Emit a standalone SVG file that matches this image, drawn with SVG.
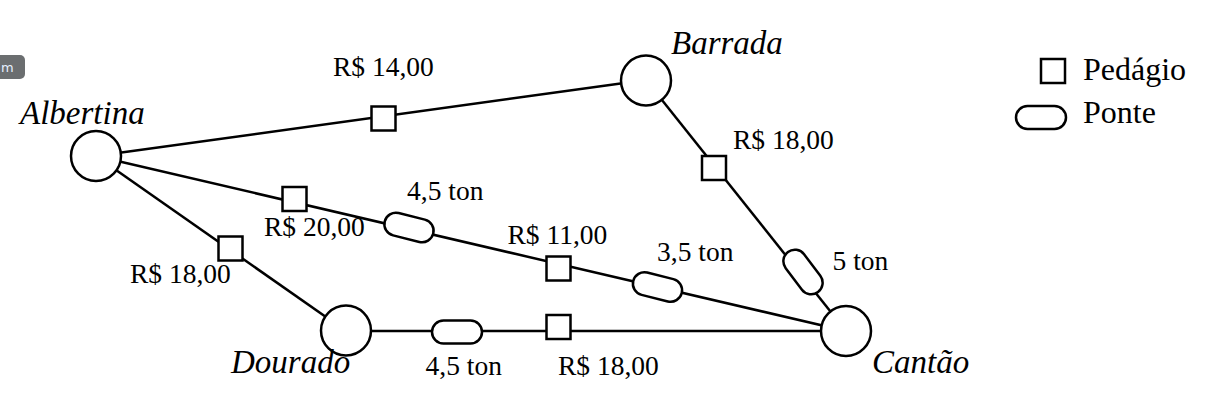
<svg xmlns="http://www.w3.org/2000/svg" width="1217" height="407" viewBox="0 0 1217 407">
<style>
.edge{stroke:#000;stroke-width:2.5;fill:none}
.city{fill:#fff;stroke:#000;stroke-width:2.5}
.toll{fill:#fff;stroke:#000;stroke-width:2.5}
.bridge{fill:#fff;stroke:#000;stroke-width:2.5}
.lbl{font-family:"Liberation Serif","Times New Roman",serif;font-size:27.5px;fill:#000}
.name{font-family:"Liberation Serif","Times New Roman",serif;font-size:33px;font-style:italic;fill:#000}
.leg{font-family:"Liberation Serif","Times New Roman",serif;font-size:32px;fill:#000}
</style>
<defs>
<rect id="sq" x="-12" y="-12" width="24" height="24" class="toll"/>
<rect id="br" x="-25" y="-11.5" width="50" height="23" rx="11.5" class="bridge"/>
</defs>
<rect x="-6" y="55" width="31" height="24" rx="5" fill="#6b6e70"/>
<text x="1" y="72" font-family="'DejaVu Sans',sans-serif" font-size="13" fill="#e6f0ff">m</text>
<g id="connectors">
<line class="edge" x1="96" y1="156" x2="646" y2="80"/>
<line class="edge" x1="96" y1="156" x2="846" y2="331"/>
<line class="edge" x1="96" y1="156" x2="346" y2="331"/>
<line class="edge" x1="646" y1="80" x2="846" y2="331"/>
<line class="edge" x1="346" y1="331" x2="846" y2="331"/>
</g>
<g id="tolls">
<use href="#sq" x="383.5" y="118.5"/>
<use href="#sq" x="294.5" y="199"/>
<use href="#sq" x="558.5" y="268.5"/>
<use href="#sq" x="230.5" y="248.5"/>
<use href="#sq" x="714" y="168"/>
<use href="#sq" x="558.5" y="327"/>
</g>
<g id="bridges">
<use href="#br" transform="translate(409,227.5) rotate(14)"/>
<use href="#br" transform="translate(657.5,287) rotate(14)"/>
<use href="#br" transform="translate(803,272) rotate(53)"/>
<use href="#br" transform="translate(457,332)"/>
</g>
<g id="node-albertina"><circle class="city" cx="96" cy="156" r="25"/><text class="name" x="20" y="124">Albertina</text></g>
<g id="node-barrada"><circle class="city" cx="646" cy="80.5" r="25"/><text class="name" x="671" y="54">Barrada</text></g>
<g id="node-dourado"><circle class="city" cx="346" cy="330.5" r="25"/><text class="name" x="231" y="373">Dourado</text></g>
<g id="node-cantao"><circle class="city" cx="846" cy="331" r="25"/><text class="name" x="872" y="373">Cantão</text></g>
<g id="labels">
<text class="lbl" x="333" y="76">R$ 14,00</text>
<text class="lbl" x="733" y="149">R$ 18,00</text>
<text class="lbl" x="407" y="200">4,5 ton</text>
<text class="lbl" x="264" y="235.5">R$ 20,00</text>
<text class="lbl" x="130" y="283">R$ 18,00</text>
<text class="lbl" x="507.5" y="244">R$ 11,00</text>
<text class="lbl" x="657" y="260.5">3,5 ton</text>
<text class="lbl" x="832.5" y="270">5 ton</text>
<text class="lbl" x="425.5" y="375">4,5 ton</text>
<text class="lbl" x="558" y="375">R$ 18,00</text>
</g>
<g id="legend">
<rect class="toll" x="1041" y="59" width="24" height="24"/>
<text class="leg" x="1083" y="80">Pedágio</text>
<rect class="bridge" x="1016" y="106" width="50" height="23" rx="11.5"/>
<text class="leg" x="1083" y="123">Ponte</text>
</g>
</svg>
